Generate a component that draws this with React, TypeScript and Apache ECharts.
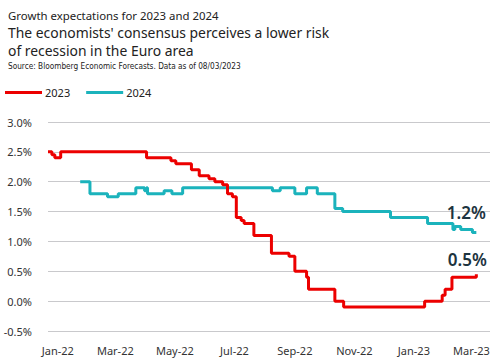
import React, { useEffect, useRef } from "react";
import * as echarts from "echarts";

const titleSmall = "Growth expectations for 2023 and 2024";
const titleMain = "The economists' consensus perceives a lower risk\nof recession in the Euro area";
const sourceText = "Source: Bloomberg Economic Forecasts. Data as of 08/03/2023";

const seriesNames = ["2023", "2024"];

const dates2023 = [
  "2021-12-22", "2021-12-26", "2021-12-29", "2022-01-04", "2022-04-02", "2022-04-27",
  "2022-05-02", "2022-05-18", "2022-05-26", "2022-06-05", "2022-06-11", "2022-06-19",
  "2022-06-24", "2022-06-29", "2022-07-03", "2022-07-08", "2022-07-11", "2022-07-21",
  "2022-08-08", "2022-08-26", "2022-09-01", "2022-09-13", "2022-09-15", "2022-10-12",
  "2022-10-21", "2023-01-12", "2023-01-30", "2023-02-02", "2023-02-09", "2023-03-06",
];
const values2023 = [
  2.5, 2.45, 2.4, 2.5, 2.4, 2.35,
  2.3, 2.2, 2.1, 2.05, 2.0, 1.95,
  1.8, 1.75, 1.4, 1.35, 1.3, 1.1,
  0.8, 0.75, 0.5, 0.4, 0.2, 0.0,
  -0.1, 0.0, 0.1, 0.2, 0.4, 0.45,
];

const dates2024 = [
  "2022-01-24", "2022-02-03", "2022-02-21", "2022-03-04", "2022-03-22", "2022-03-31",
  "2022-04-02", "2022-04-03", "2022-04-20", "2022-04-28", "2022-05-09", "2022-08-09",
  "2022-08-17", "2022-09-01", "2022-09-13", "2022-09-24", "2022-10-12", "2022-10-20",
  "2022-12-08", "2023-01-15", "2023-02-10", "2023-02-12", "2023-02-18", "2023-03-02",
  "2023-03-06",
];
const values2024 = [
  2.0, 1.8, 1.75, 1.8, 1.9, 1.85,
  1.9, 1.8, 1.85, 1.8, 1.9, 1.85,
  1.9, 1.8, 1.9, 1.8, 1.55, 1.5,
  1.4, 1.3, 1.2, 1.25, 1.2, 1.15,
  1.15,
];

const endLabels = ["0.5%", "1.2%"];

const xTickDates = [
  "2022-01-01", "2022-03-01", "2022-05-01", "2022-07-01",
  "2022-09-01", "2022-11-01", "2023-01-01", "2023-03-01",
];
const xTickLabels = ["Jan-22", "Mar-22", "May-22", "Jul-22", "Sep-22", "Nov-22", "Jan-23", "Mar-23"];
const yTickLabels = ["-0.5%", "0.0%", "0.5%", "1.0%", "1.5%", "2.0%", "2.5%", "3.0%"];

const xMin = "2021-12-22";
const xMax = "2023-03-20";
const yMin = -0.5;
const yMax = 3.0;
const yStep = 0.5;

const RED = "#ec0000";
const TEAL = "#1bb3bc";
const DARK = "#1d3440";
const FONT = "'Noto Sans', sans-serif";

const ts = (s: string) => {
  const [y, m, d] = s.split("-").map(Number);
  return Date.UTC(y, m - 1, d);
};

export default function App() {
  const ref = useRef<HTMLDivElement>(null);

  useEffect(() => {
    if (!ref.current) return;
    const chart = echarts.init(ref.current, null, { renderer: "svg", width: 500, height: 362 });
    const tickTs = xTickDates.map(ts);
    const data23 = dates2023.map((d, i) => [ts(d), values2023[i]]);
    const data24 = dates2024.map((d, i) => [ts(d), values2024[i]]);
    const last23 = data23[data23.length - 1];
    const last24 = data24[data24.length - 1];

    chart.setOption({
      animation: false,
      backgroundColor: "#ffffff",
      textStyle: { fontFamily: FONT },
      title: [
        {
          text: titleSmall,
          left: 3,
          top: 5,
          textStyle: { fontFamily: FONT, fontSize: 11.4, fontWeight: "normal", color: "#222" },
        },
        {
          text: titleMain,
          left: 3,
          top: 19,
          textStyle: { fontFamily: FONT, fontSize: 13.9, fontWeight: "normal", color: "#222", lineHeight: 17.5 },
        },
        {
          text: sourceText,
          left: 3,
          top: 57,
          textStyle: { fontFamily: "'Liberation Sans Narrow', 'DejaVu Sans Condensed', sans-serif", fontSize: 8.2, fontWeight: "normal", color: "#222" },
        },
      ],
      legend: {
        left: 0,
        top: 82,
        itemWidth: 37,
        itemHeight: 3,
        itemGap: 16,
        icon: "rect",
        textStyle: { fontFamily: FONT, fontSize: 11, color: "#222", padding: [0, 0, 0, -2] },
        data: [
          { name: seriesNames[0], itemStyle: { color: RED } },
          { name: seriesNames[1], itemStyle: { color: TEAL } },
        ],
      },
      grid: { left: 48, right: 10, top: 122, height: 209, containLabel: false, outerBoundsMode: "none" },
      xAxis: {
        type: "value",
        position: "bottom",
        min: ts(xMin),
        max: ts(xMax),
        axisLine: { show: false, onZero: false },
        axisTick: { show: false },
        splitLine: { show: false },
        axisLabel: {
          customValues: tickTs,
          margin: 14,
          fontFamily: FONT,
          fontSize: 11,
          color: "#333",
          formatter: (v: number) => {
            const i = tickTs.indexOf(v);
            return i >= 0 ? xTickLabels[i] : "";
          },
        },
      },
      yAxis: {
        type: "value",
        min: yMin,
        max: yMax,
        interval: yStep,
        axisLine: { show: false, onZero: false },
        axisTick: { show: false },
        splitLine: { lineStyle: { color: "#c9c9cc", width: 1 } },
        axisLabel: {
          margin: 16,
          fontFamily: FONT,
          fontSize: 11,
          color: "#333",
          showMinLabel: true,
          formatter: (v: number) => yTickLabels[Math.round((v - yMin) / yStep)] ?? "",
        },
      },
      series: [
        {
          name: seriesNames[0],
          type: "line",
          step: "end",
          data: data23,
          showSymbol: false,
          symbol: "none",
          lineStyle: { color: RED, width: 3 },
          itemStyle: { color: RED },
          z: 3,
          markPoint: {
            symbol: "circle",
            symbolSize: 0,
            data: [{ coord: last23, value: endLabels[0] }],
            label: {
              show: true,
              position: "top",
              distance: 6,
              offset: [-9, 0],
              formatter: () => endLabels[0],
              fontFamily: FONT,
              fontSize: 17,
              fontWeight: 600,
              color: DARK,
            },
          },
        },
        {
          name: seriesNames[1],
          type: "line",
          step: "end",
          data: data24,
          showSymbol: false,
          symbol: "none",
          lineStyle: { color: TEAL, width: 3 },
          itemStyle: { color: TEAL },
          z: 2,
          markPoint: {
            symbol: "circle",
            symbolSize: 0,
            data: [{ coord: last24, value: endLabels[1] }],
            label: {
              show: true,
              position: "top",
              distance: 11,
              offset: [-10, 0],
              formatter: () => endLabels[1],
              fontFamily: FONT,
              fontSize: 17,
              fontWeight: 600,
              color: DARK,
            },
          },
        },
      ],
    });
    return () => chart.dispose();
  }, []);

  return (
    <div
      ref={ref}
      style={{ position: "fixed", left: 0, top: 0, width: 500, height: 362, background: "#fff" }}
    />
  );
}
